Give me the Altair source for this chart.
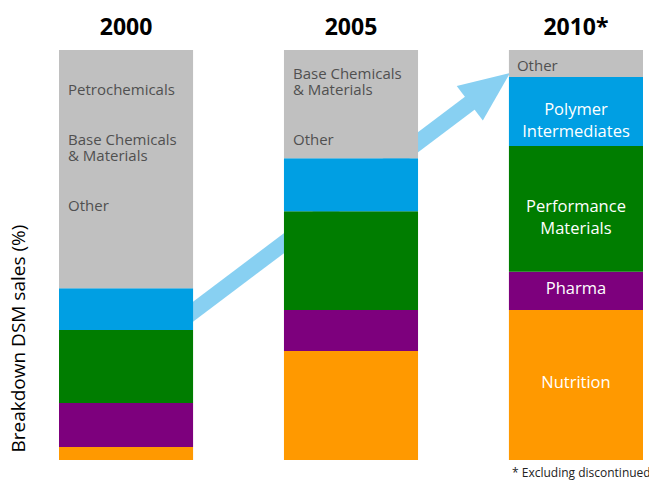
import altair as alt
import pandas as pd

# ---- data ----
years = ["2000", "2005", "2010*"]
segments = ["Nutrition", "Pharma", "Performance Materials", "Polymer Intermediates", "Other"]
nutrition = [3.2, 26.6, 36.6]
pharma = [10.7, 10.0, 9.3]
performance = [17.8, 24.1, 30.7]
polymer = [10.2, 12.9, 16.8]
other = [58.1, 26.4, 6.6]
seg_colors = ["#FF9900", "#7D007D", "#007D00", "#009FE3", "#C0C0C0"]

labels_2010 = ["Nutrition", "Pharma", "Performance\nMaterials", "Polymer\nIntermediates"]
# text lines written in the grey "Other" part of the 2000 and 2005 bars (line slot in the block)
gray_line_year = ["2000", "2000", "2000", "2000", "2005", "2005", "2005"]
gray_line_text = ["Petrochemicals", "Base Chemicals", "& Materials", "Other",
                  "Base Chemicals", "& Materials", "Other"]
gray_line_slot = [1, 4, 5, 8, 0, 1, 4]
footnote = "* Excluding discontinued"
y_title = "Breakdown DSM sales (%)"

# ---- tables ----
series = [nutrition, pharma, performance, polymer, other]
rows = []
for i, yr in enumerate(years):
    base = 0.0
    for s, vals in zip(segments, series):
        v = vals[i]
        rows.append({"year": yr, "seg": s, "y0": base, "y1": base + v, "mid": base + v / 2})
        base += v
bars_df = pd.DataFrame(rows)

lab10 = bars_df[(bars_df.year == "2010*") & (bars_df.seg != "Other")].copy()
lab10["label"] = labels_2010
other10 = bars_df[(bars_df.year == "2010*") & (bars_df.seg == "Other")].copy()
other10["label"] = "Other"

LINE_PCT = 4.02  # one text line, in % units of the axis
tops = {y: bars_df[bars_df.year == y].y1.max() for y in years}
gray_df = pd.DataFrame({"year": gray_line_year, "label": gray_line_text, "slot": gray_line_slot})
gray_df["ypos"] = gray_df.year.map(tops) - gray_df.slot * LINE_PCT

# arrow annotation (x as fraction of plot width, y in % units)
arrow_df = pd.DataFrame({"ax": [0.215, 0.7312], "ay": [34.6, 90.0]})
head_df = pd.DataFrame({"ax": [0.7723], "ay": [94.4]})
arrow_color = "#88D0F2"

FONT = "Open Sans"

xscale = alt.Scale(domain=years, paddingInner=0.404, paddingOuter=0)
xaxis = alt.Axis(orient="top", title=None, ticks=False, domain=False, labelAngle=0,
                 labelFont=FONT, labelFontWeight="bold", labelFontSize=23,
                 labelColor="#000000", labelPadding=16, labelBaseline="alphabetic")
yscale = alt.Scale(domain=[0, 100], nice=False, zero=True)
yaxis = alt.Axis(title=y_title, labels=False, ticks=False, domain=False, grid=False,
                 titleFont=FONT, titleFontSize=19, titleFontWeight="normal",
                 titleColor="#000000", titleAngle=270, titleAlign="left",
                 titleBaseline="middle", titleX=-41, titleY=402)

bars = alt.Chart(bars_df).mark_bar(strokeWidth=0).encode(
    x=alt.X("year:N", scale=xscale, axis=xaxis, sort=years),
    y=alt.Y("y0:Q", scale=yscale, axis=yaxis),
    y2="y1:Q",
    color=alt.Color("seg:N", scale=alt.Scale(domain=segments, range=seg_colors), legend=None),
)

white_labels = alt.Chart(lab10).mark_text(
    font=FONT, fontSize=16.5, color="white", align="center", baseline="middle",
    lineBreak="\n", lineHeight=22, dy=-2
).encode(
    x=alt.X("year:N", scale=xscale, axis=xaxis, sort=years),
    y=alt.Y("mid:Q", scale=yscale, axis=yaxis),
    text="label:N",
)

other_label = alt.Chart(other10).mark_text(
    font=FONT, fontSize=15, color="#505050", align="left", baseline="middle", dx=8, dy=2
).encode(
    x=alt.X("year:N", scale=xscale, axis=xaxis, sort=years, bandPosition=0),
    y=alt.Y("mid:Q", scale=yscale, axis=yaxis),
    text="label:N",
)

gray_labels = alt.Chart(gray_df).mark_text(
    font=FONT, fontSize=15, color="#505050", align="left", baseline="middle",
    dx=9, dy=24
).encode(
    x=alt.X("year:N", scale=xscale, axis=xaxis, sort=years, bandPosition=0),
    y=alt.Y("ypos:Q", scale=yscale, axis=yaxis),
    text="label:N",
)

inner = alt.layer(bars, white_labels, other_label, gray_labels)

ax_scale = alt.Scale(domain=[0, 1], nice=False, zero=False)
arrow_line = alt.Chart(arrow_df).mark_line(
    color=arrow_color, strokeWidth=16, strokeCap="butt"
).encode(
    x=alt.X("ax:Q", scale=ax_scale, axis=None),
    y=alt.Y("ay:Q", scale=yscale, axis=yaxis),
)
arrow_head = alt.Chart(head_df).mark_point(
    shape="M0,0L-2,-0.86L-2,0.86Z", size=2540, angle=323, filled=True,
    opacity=1, color=arrow_color, strokeWidth=0
).encode(
    x=alt.X("ax:Q", scale=ax_scale, axis=None),
    y=alt.Y("ay:Q", scale=yscale, axis=yaxis),
)

chart = alt.layer(arrow_line, arrow_head, inner).resolve_scale(
    x="independent"
).properties(
    width=584, height=410,
    autosize=alt.AutoSizeParams(type="none"),
    padding={"left": 59, "top": 50, "right": 6, "bottom": 20},
    title=alt.TitleParams(footnote, orient="bottom", anchor="start", dx=503, offset=8,
                          font=FONT, fontSize=12, fontWeight="normal", color="#222222",
                          baseline="top"),
).configure_view(stroke=None)

chart.save("out.html", embed_options={"renderer": "svg", "actions": False})
